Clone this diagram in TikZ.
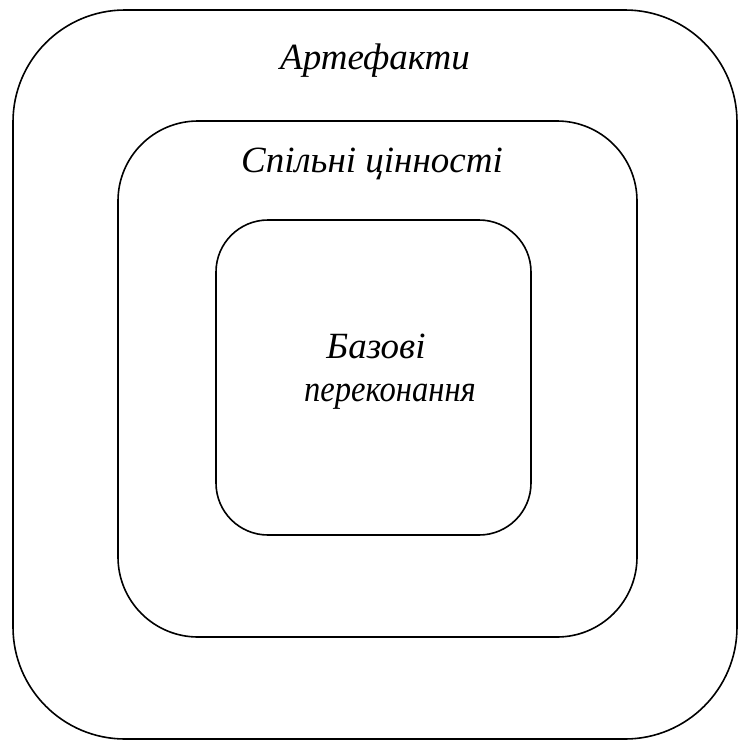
\documentclass[tikz,border=0pt]{standalone}
\usepackage{fontspec}
\setmainfont{Liberation Serif}
\begin{document}
\begin{tikzpicture}[x=1pt,y=-1pt,
  layer/.style={draw=black,line width=1.6pt},
  lbl/.style={font=\itshape\fontsize{37}{44}\selectfont,inner sep=0pt}]
\useasboundingbox (0,0) rectangle (738,740);
\draw[layer,rounded corners=112pt] (13,10) rectangle (737,739);
\draw[layer,rounded corners=80pt] (118,121) rectangle (637,637);
\draw[layer,rounded corners=52pt] (216,220) rectangle (531,535);
\node[lbl,anchor=base] (art) at (375,69) {Артефакти};
\node[lbl,anchor=base] (val) at (372,172) {Спільні цінності};
\node[lbl,anchor=base] (bas1) at (376,358) {Базові};
\node[lbl,anchor=base,xscale=0.88] (bas2) at (390,401) {переконання};
\end{tikzpicture}
\end{document}
